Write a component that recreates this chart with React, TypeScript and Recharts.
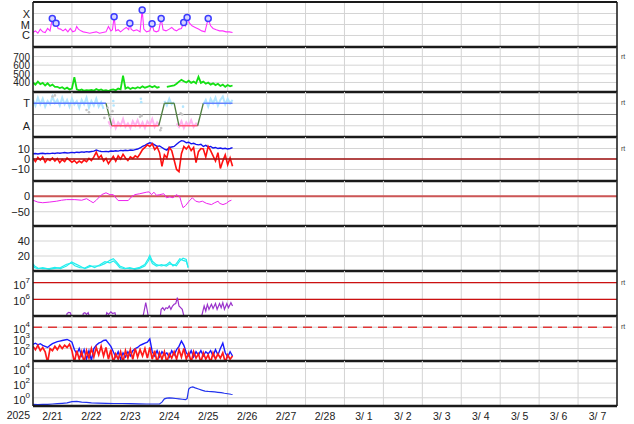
import React from 'react';
import { ComposedChart, Line, XAxis, YAxis, CartesianGrid, ReferenceLine } from 'recharts';

// ---------- axis / tick data ----------
const DAY_TICKS = [0, 24, 48, 72, 96, 120, 144, 168, 192, 216, 240, 264, 288, 312, 336, 360];
const DAY_LABELS = ['2/21', '2/22', '2/23', '2/24', '2/25', '2/26', '2/27', '2/28', '3/ 1', '3/ 2', '3/ 3', '3/ 4', '3/ 5', '3/ 6', '3/ 7'];
const LABEL_TICKS = DAY_LABELS.map((_, i) => 12 + 24 * i);
const YEAR_LABEL = '2025';

// ---------- panel 1: X-ray flux (log10 W/m2) ----------
const xrayHours = [0,1.5,3,4.5,6,7.5,9,10.5,11.9,13,14.2,15.5,17,18.5,20,21.5,23,24.5,26,26.9,28,29.5,31,33,35,37,39,41,43,45,46.5,48,49,50,51,52.5,54,56,57.5,59,59.7,60.5,62,64,66,67.3,68.3,70,72,73.4,74.5,76,77.5,79,80.2,82,84,85.5,87,88.5,90,91.5,92.9,94,95,96.5,98,100,102,104,106,108,109.5,111,113,115,117,119,121,123];
const xrayLog10 = [-5.73,-5.58,-5.79,-5.42,-5.67,-5.73,-5.36,-5.58,-4.45,-5.12,-4.88,-5.36,-5.42,-5.58,-5.42,-5.67,-5.36,-5.67,-5.58,-5.18,-5.42,-5.58,-5.67,-5.73,-5.79,-5.73,-5.67,-5.79,-5.73,-5.67,-5.18,-5.58,-5.48,-4.30,-5.58,-5.48,-5.67,-5.42,-5.27,-5.48,-4.88,-5.42,-5.58,-5.48,-5.67,-3.67,-5.42,-5.67,-5.58,-4.94,-5.58,-5.67,-5.58,-4.45,-5.48,-5.58,-5.42,-5.27,-5.48,-5.58,-5.42,-5.36,-4.82,-5.12,-4.36,-4.88,-5.12,-5.27,-5.42,-5.58,-5.67,-4.45,-5.12,-5.36,-5.48,-5.58,-5.58,-5.67,-5.67,-5.73];
const flareHours = [11.9, 14.2, 50, 59.7, 67.3, 73.4, 79, 92.9, 95, 108];
const flareLog10 = [-4.45, -4.88, -4.30, -4.88, -3.67, -4.94, -4.45, -4.82, -4.36, -4.45];
const xrayClassTicks = [-6, -5, -4];
const xrayClassNames = ['C', 'M', 'X'];

// ---------- panel 2: solar wind speed (1.5 h cadence) ----------
const speedKms = [400,375,410,380,395,365,390,360,375,350,350,335,345,325,340,318,330,460,320,310,318,305,312,308,315,305,325,310,320,305,312,300,315,320,310,330,320,480,330,345,325,340,330,345,335,355,340,350,360,345,360,340,350,null,null,350,355,360,365,385,410,430,415,400,420,395,410,390,465,395,410,385,400,375,390,370,385,360,375,350,370,355,365];

// ---------- panel 3: sector polarity (T = +1, A = -1) ----------
const sectorTowardBand = [1.3,0.8,1.5,0.9,1.4,0.7,1.2,0.9,1.6,1.0,1.3,0.8,1.5,0.9,1.3,0.7,1.4,0.9,1.2,0.6,1.3,0.9,1.5,0.6,1.2,0.8,1.4,0.7,1.1,0.5,null,null,null,null,null,null,null,null,null,null,null,null,null,null,null,null,null,null,null,null,null,null,null,null,1.2,0.8,1.4,0.9,1.1,null,null,null,null,null,null,null,null,null,null,null,0.9,1.3,0.7,1.4,1.0,1.5,0.8,1.3,1.6,0.9,1.4,1.0,1.3];
const sectorAwayBand = [null,null,null,null,null,null,null,null,null,null,null,null,null,null,null,null,null,null,null,null,null,null,null,null,null,null,null,null,null,null,null,-0.6,-1.1,-0.5,-1.2,-0.7,-1.0,-0.4,-1.1,-0.8,-1.2,-0.6,-1.0,-0.5,-1.1,-0.7,-1.2,-0.6,-0.9,-0.4,-1.1,-0.7,-1.0,null,null,null,null,null,null,-0.8,-1.1,-0.6,-1.2,-0.7,-1.0,-0.5,-1.1,-0.8,-1.0,null,null,null,null,null,null,null,null,null,null,null,null,null,null];
const sectorHours = [0, 45, 48.5, 77.5, 81, 87, 90, 101.5, 105, 123];
const sectorLevel = [1, 1, -1, -1, 1, 1, -1, -1, 1, 1];
const SECTOR_COLORS = ['#5a78ff', '#4f7f3f', '#ff4d6d', '#4f7f3f', '#4f7f3f', '#4f7f3f', '#ff4d6d', '#4f7f3f', '#5a78ff'];
const grayDotHours = [12, 13.5, 33, 34.5, 44, 46, 47.5, 49, 66, 67, 78.5, 79, 91, 92];
const grayDotLevel = [1.6, 1.7, 0.4, 0.2, -0.3, 0.6, -0.2, 0.3, -0.2, -0.1, -1.4, -1.2, 0.1, 0.0];
const blueDotHours = [49.5, 49.7, 66.5, 66.7, 92.5];
const blueDotLevel = [1.2, 0.8, 1.4, 1.1, 0.7];

// ---------- panel 4: IMF Bt (blue) and Bz (red), nT ----------
const btNt = [5.0,5.3,4.8,5.2,5.5,5.0,5.4,5.1,5.6,5.3,5.8,5.5,5.9,6.2,5.8,6.0,6.3,6.0,6.5,6.2,6.8,6.5,7.0,6.7,7.2,7.5,8.5,7.8,7.2,7.0,7.3,7.0,7.6,7.4,7.8,7.5,8.2,7.9,8.4,8.0,8.6,8.3,9.0,9.5,10.5,12.0,13.0,14.5,15.5,15.0,13.5,12.0,12.5,11.0,9.5,8.5,11.0,11.5,12.0,14.0,16.0,17.5,17.0,15.5,16.0,14.5,15.0,14.0,13.5,14.0,12.0,13.0,11.5,12.0,10.5,11.0,10.0,10.5,9.8,10.2,9.5,10.0,10.8];
const bzNt = [0.5,-2.5,1.5,-1.0,2.0,-3.0,0.0,-1.5,1.0,-2.0,0.5,-3.5,-0.5,-2.5,1.0,-1.0,-3.0,-1.5,-4.0,-2.0,-3.5,-1.0,-2.5,0.5,-1.5,2.0,6.5,1.0,3.5,-2.0,0.5,-4.5,-1.0,2.5,-2.0,3.0,0.0,4.5,1.0,-1.5,2.0,0.5,3.0,1.5,5.0,9.0,11.0,13.5,12.0,14.5,9.0,11.5,6.0,-7.0,4.0,1.0,11.0,8.0,-1.0,-10.0,-12.0,5.0,12.0,9.5,12.5,8.0,11.0,-3.5,7.0,10.0,9.5,2.0,12.0,8.0,3.0,-2.0,6.0,-9.0,-2.0,4.0,-5.5,1.0,-7.0];

// ---------- panel 5: Dst (nT) ----------
const dstHours = [0,3,6,10,14.6,17.6,20.7,25.8,30,33,35.5,37.1,39,42.3,45,47.4,49.5,51.5,52.5,58.7,60.7,62.8,65.8,70,71.6,73.1,74.5,76.1,78.2,80.6,82.3,84.3,86.3,88.4,90.5,91.5,92.5,94.1,96.2,98.2,100.3,102.4,104.4,106.9,110,112,114.1,115,117.1,119.2,120.8,122.3];
const dstNt = [-13,-19,-21,-19,-16,-13,-11,-11,-13,-8,-16,-21,-13,5,11,5,5,-8,-14,-14,-2,5,8,13,14,5,13,3,5,8,-5,-2,-5,5,-2,-21,-37,-30,-16,-5,-16,-19,-16,-23,-27,-21,-16,-23,-27,-23,-16,-13];

// ---------- panel 6: two cyan traces ----------
const cyanHours = [0,1,3,6,10,13.5,17,20.7,23.8,25.8,28.9,32,35,38,41,44.3,47.4,49.5,51.5,53.5,56.6,59.7,62.8,65.8,68.9,71,72,73.6,76.1,79.2,82.3,84.3,86.3,88.4,90.5,92.5,94.5,95.6];
const cyanA = [9.8,6.7,4.0,3.1,3.1,4.9,3.1,6.7,12.0,9.8,6.7,3.1,5.8,6.7,6.7,9.8,14.2,16.4,12.0,6.7,4.0,3.1,3.1,4.9,8.5,16.4,20.8,12.9,8.5,6.7,8.5,12.0,6.7,9.8,16.4,14.2,12.9,5.4];
const cyanB = [7.5,4.5,3.0,4.5,2.5,3.5,4.5,9.0,10.5,7.0,4.5,4.0,7.5,4.5,8.0,12.5,11.0,13.5,9.5,4.5,3.0,4.5,2.5,3.5,6.5,13.0,17.5,10.0,6.5,8.5,6.5,9.5,8.5,7.0,13.5,17.0,15.5,4.0];

// ---------- panel 7: electron flux (log10) ----------
const elecHours = [0,20,21,22,23,24,25,30,31,32,33,34,35,36,44,45.5,46.5,48,49,50.5,51.5,67,68.5,69.5,70.5,71.5,78,79,80,81,82,83,84,85,86,87,88,89,90,91,92,93,94,103,104.5,105.5,106.5,107.5,108.5,110,111,112.5,113.5,115,116,117,118,119.5,120.5,122,123];
const elecLog10 = [4.6,4.6,5.15,5.22,5.2,4.9,4.6,4.6,5.15,5.2,5.1,5.2,4.9,4.6,4.6,5.2,5.1,5.25,5.15,5.2,4.8,4.6,5.3,5.8,5.3,4.7,4.6,5.4,5.5,5.35,5.5,5.45,5.6,5.4,5.6,5.7,5.75,6.1,5.6,5.5,5.4,5.0,4.6,4.6,5.2,5.6,5.3,5.7,5.4,5.7,5.45,5.75,5.4,5.75,5.5,5.8,5.4,5.75,5.5,5.8,5.6];

// ---------- panel 8: particle flux blue / red (log10, 1.5 h cadence) ----------
const protonBlueLog10 = [2.4,2.5,2.35,2.45,2.3,2.2,2.1,2.3,2.45,2.55,2.65,2.7,2.75,2.8,2.85,2.75,2.6,1.9,1.5,2.0,1.3,1.9,1.0,1.8,0.9,2.0,2.3,2.5,2.6,2.75,2.8,2.5,2.2,1.7,1.2,1.7,1.0,1.6,1.2,1.7,1.3,1.8,2.0,2.1,2.3,2.4,2.5,2.6,2.9,1.7,1.3,1.8,1.2,1.7,1.4,1.6,1.2,1.8,1.4,1.9,2.2,2.7,2.3,1.6,1.3,1.8,1.2,1.7,1.4,1.8,1.3,1.7,1.5,1.8,1.3,1.9,1.4,2.0,2.5,1.6,1.2,1.7,1.3];
const protonRedLog10 = [2.2,1.9,2.3,1.8,2.1,1.7,0.7,2.0,1.8,2.2,1.9,2.3,2.0,2.3,2.1,2.4,1.8,0.7,1.8,1.0,1.7,0.7,1.8,1.1,2.0,1.2,2.1,1.4,2.2,1.3,2.1,1.0,1.9,0.7,1.5,1.0,1.7,0.7,1.8,1.1,1.9,1.0,2.0,1.2,1.9,1.3,2.0,1.1,2.1,1.0,1.8,0.7,1.6,1.0,1.7,0.7,1.5,1.1,1.7,1.0,1.9,1.2,2.0,1.0,1.6,0.7,1.7,1.1,1.5,0.7,1.6,1.0,1.4,0.7,1.6,1.0,1.5,1.1,1.6,0.7,1.4,1.0,1.3];

// ---------- panel 9: blue (log10) ----------
const p9Hours = [0,3,6,9,12,15,18,21,24,27,30,33,36,40,45,50,55,60,65,70,75,78,79.5,81,82.5,84,86,88,90,92,94,95,96,97,98.5,100,102,104,106,108,110,112,114,116,118,120,122,123];
const p9Log10 = [-0.9,-0.93,-0.88,-0.9,-0.85,-0.8,-0.75,-0.7,-0.52,-0.5,-0.6,-0.62,-0.7,-0.72,-0.75,-0.78,-0.78,-0.8,-0.82,-0.85,-0.85,-0.85,-0.6,-0.15,-0.05,0.0,-0.05,-0.1,-0.15,-0.2,-0.25,-0.1,1.2,1.4,1.48,1.35,1.2,1.05,0.92,0.88,0.85,0.8,0.75,0.7,0.62,0.55,0.48,0.45];

// ---------- build tables ----------
const t15 = speedKms.map((_, i) => i * 1.5);
const pair = (hs: number[], vs: (number | null)[]) => hs.map((h, i) => ({ h, v: vs[i] }));

const xrayRows = pair(xrayHours, xrayLog10);
const flareRows = pair(flareHours, flareLog10);
const speedRows = pair(t15, speedKms);
const towardRows = pair(t15, sectorTowardBand);
const awayRows = pair(t15, sectorAwayBand);
const sectorSegs = sectorHours.slice(0, -1).map((h, i) => [
  { h, v: sectorLevel[i] },
  { h: sectorHours[i + 1], v: sectorLevel[i + 1] },
]);
const grayDotRows = pair(grayDotHours, grayDotLevel);
const blueDotRows = pair(blueDotHours, blueDotLevel);
const btRows = pair(t15, btNt);
const bzRows = pair(t15, bzNt);
const dstRows = pair(dstHours, dstNt);
const cyanARows = pair(cyanHours, cyanA);
const cyanBRows = pair(cyanHours, cyanB);
const elecRows = pair(elecHours, elecLog10);
const pBlueRows = pair(t15, protonBlueLog10);
const pRedRows = pair(t15, protonRedLog10);
const p9Rows = pair(p9Hours, p9Log10);

// ---------- layout ----------
const FONT = '"Liberation Sans", Arial, sans-serif';
const W = 634;
const PANEL_EDGES = [2, 47, 92, 137, 181, 226, 271, 316, 361, 406];
const TXT = '#222';
const BORDER = '#1a1a1a';

function renderYTick(p: any, label?: (v: number) => string, sup?: boolean, fs = 11) {
  const { x, y, payload } = p;
  const v = payload.value;
  if (sup) {
    return (
      <text x={x} y={y + 6} textAnchor="end" fontSize={fs} fontFamily={FONT} fill={TXT}>
        10<tspan dy={-6} fontSize={8}>{v}</tspan>
      </text>
    );
  }
  return (
    <text x={x} y={y + 4} textAnchor="end" fontSize={fs} fontFamily={FONT} fill={TXT}>
      {label ? label(v) : String(v)}
    </text>
  );
}

function renderRtTick(p: any) {
  const { x, y } = p;
  return (
    <text x={x + 1} y={y + 2} fontSize={7} fontFamily={FONT} fill="#444">rt</text>
  );
}

function renderNoTick() {
  return <g />;
}

function renderDayLabel(p: any) {
  const { x, y, payload } = p;
  const idx = Math.round((payload.value - 12) / 24);
  return (
    <text x={x} y={y + 11} textAnchor="middle" fontSize={10.5} fontFamily={FONT} fill={TXT}>
      {DAY_LABELS[idx]}
    </text>
  );
}

type PanelProps = {
  idx: number;
  domain: [number, number];
  ticks: number[];
  label?: (v: number) => string;
  sup?: boolean;
  fs?: number;
  rt?: number;
  first?: boolean;
  last?: boolean;
  children?: React.ReactNode;
};

function Panel({ idx, domain, ticks, label, sup, fs, rt, first, last, children }: PanelProps) {
  const top = PANEL_EDGES[idx];
  const plotH = PANEL_EDGES[idx + 1] - top;
  const topAxisH = first ? 1 : 0;
  const mt = 8 - topAxisH;
  const xh = 1;
  const lab = last ? 17 : 0;
  const mb = last ? 0 : 3;
  const H = 8 + plotH + xh + lab + mb;
  return (
    <div style={{ position: 'absolute', left: 0, top: top - 8, width: W, height: H }}>
      <ComposedChart width={W} height={H} margin={{ top: mt, right: 16, bottom: mb, left: 3 }}>
        <CartesianGrid stroke="#d4d4d4" strokeWidth={1} syncWithTicks />
        <XAxis
          type="number"
          dataKey="h"
          domain={[0, 360]}
          ticks={DAY_TICKS}
          interval={0}
          allowDataOverflow
          height={xh}
          tick={renderNoTick}
          tickLine={false}
          axisLine={{ stroke: BORDER, strokeWidth: 2.6 }}
        />
        {first && (
          <XAxis
            xAxisId="top"
            orientation="top"
            type="number"
            dataKey="h"
            domain={[0, 360]}
            ticks={DAY_TICKS}
            allowDataOverflow
            height={topAxisH}
            tick={false}
            tickLine={false}
            axisLine={{ stroke: BORDER, strokeWidth: 2 }}
          />
        )}
        {last && (
          <XAxis
            xAxisId="lab"
            type="number"
            dataKey="h"
            domain={[0, 360]}
            ticks={LABEL_TICKS}
            allowDataOverflow
            interval={0}
            height={lab}
            tickSize={0}
            tickLine={false}
            axisLine={false}
            tick={renderDayLabel}
            label={{ value: YEAR_LABEL, position: 'left', offset: 3, fill: TXT, fontSize: 10.5, fontFamily: FONT }}
          />
        )}
        <YAxis
          type="number"
          domain={domain}
          ticks={ticks}
          allowDataOverflow
          interval={0}
          width={30}
          tickSize={0}
          tickMargin={3}
          tickLine={false}
          axisLine={{ stroke: BORDER, strokeWidth: 1.5 }}
          tick={(p: any) => renderYTick(p, label, sup, fs)}
        />
        <YAxis
          yAxisId="r"
          orientation="right"
          type="number"
          domain={domain}
          ticks={rt !== undefined ? [rt] : ticks}
          allowDataOverflow
          interval={0}
          width={1}
          tickSize={0}
          tickMargin={3}
          tickLine={false}
          axisLine={{ stroke: BORDER, strokeWidth: 1.5 }}
          tick={rt !== undefined ? renderRtTick : false}
        />
        {children}
      </ComposedChart>
    </div>
  );
}

const common = { type: 'linear' as const, dataKey: 'v', dot: false, isAnimationActive: false, activeDot: false };
const minus = (v: number) => (v < 0 ? '\u2212' + Math.abs(v) : String(v));

export default function App() {
  return (
    <div style={{ position: 'absolute', left: 0, top: 0, width: W, height: 424, background: '#fff', fontFamily: FONT }}>
      {/* 1: X-ray class */}
      <Panel idx={0} first domain={[-7.05, -2.95]} ticks={xrayClassTicks} label={(v) => xrayClassNames[v + 6]}>
        <Line {...common} data={xrayRows} stroke="#ff30ff" strokeWidth={1.1} />
        <Line
          {...common}
          data={flareRows}
          stroke="none"
          dot={{ r: 3, stroke: '#3c3cff', strokeWidth: 1.5, fill: '#d6d6ff' }}
        />
      </Panel>

      {/* 2: speed */}
      <Panel idx={1} domain={[290, 810]} ticks={[400, 500, 600, 700]} fs={10} rt={700}>
        <Line {...common} data={speedRows} stroke="#14e014" strokeWidth={1.8} />
      </Panel>

      {/* 3: sector */}
      <Panel idx={2} domain={[-2, 2]} ticks={[-1, 1]} label={(v) => (v > 0 ? 'T' : 'A')} rt={1}>
        <ReferenceLine y={0} stroke="#777" strokeWidth={1.2} />
        <Line {...common} data={grayDotRows} stroke="none" dot={{ r: 1.3, fill: '#c4c4c4', stroke: 'none' }} />
        <Line {...common} data={towardRows} stroke="#b2e6ff" strokeWidth={2} />
        <Line {...common} data={awayRows} stroke="#ffb4f0" strokeWidth={2} />
        <Line {...common} data={blueDotRows} stroke="none" dot={{ r: 1.3, fill: '#b2e6ff', stroke: 'none' }} />
        {sectorSegs.map((seg, i) => (
          <Line key={'s' + i} {...common} data={seg} stroke={SECTOR_COLORS[i]} strokeWidth={1.3} />
        ))}
      </Panel>

      {/* 4: IMF */}
      <Panel idx={3} domain={[-21, 21]} ticks={[-10, 0, 10]} label={minus} rt={10}>
        <Line {...common} data={btRows} stroke="#1414ee" strokeWidth={1.4} />
        <Line {...common} data={bzRows} stroke="#ff1010" strokeWidth={1.6} />
        <ReferenceLine y={0} stroke="#a01010" strokeWidth={1.3} />
      </Panel>

      {/* 5: Dst */}
      <Panel idx={4} domain={[-96, 49]} ticks={[-50, 0]} label={minus}>
        <ReferenceLine y={0} stroke="#cd5656" strokeWidth={2} />
        <Line {...common} data={dstRows} stroke="#ee22ee" strokeWidth={1} />
      </Panel>

      {/* 6: cyan */}
      <Panel idx={5} domain={[0, 60]} ticks={[20, 40]}>
        <Line {...common} data={cyanBRows} stroke="#22eeee" strokeWidth={1.2} />
        <Line {...common} data={cyanARows} stroke="#22eeee" strokeWidth={1.2} />
      </Panel>

      {/* 7: electrons */}
      <Panel idx={6} domain={[5.0, 7.7]} ticks={[6, 7]} sup rt={7}>
        <ReferenceLine y={7} stroke="#cc1111" strokeWidth={1.2} />
        <ReferenceLine y={6} stroke="#cc1111" strokeWidth={1.2} />
        <Line {...common} data={elecRows} stroke="#9a33cc" strokeWidth={1.2} />
      </Panel>

      {/* 8: particles */}
      <Panel idx={7} domain={[0.83, 5.05]} ticks={[2, 3, 4]} sup rt={4}>
        <ReferenceLine y={4} stroke="#e03636" strokeWidth={1.5} strokeDasharray="9 6" />
        <Line {...common} data={pBlueRows} stroke="#1a1aff" strokeWidth={1.4} />
        <Line {...common} data={pRedRows} stroke="#ff1a1a" strokeWidth={1.7} />
      </Panel>

      {/* 9: blue log */}
      <Panel idx={8} last domain={[-1.12, 5.02]} ticks={[0, 2, 4]} sup>
        <Line {...common} data={p9Rows} stroke="#2233ee" strokeWidth={1.2} />
      </Panel>
    </div>
  );
}
